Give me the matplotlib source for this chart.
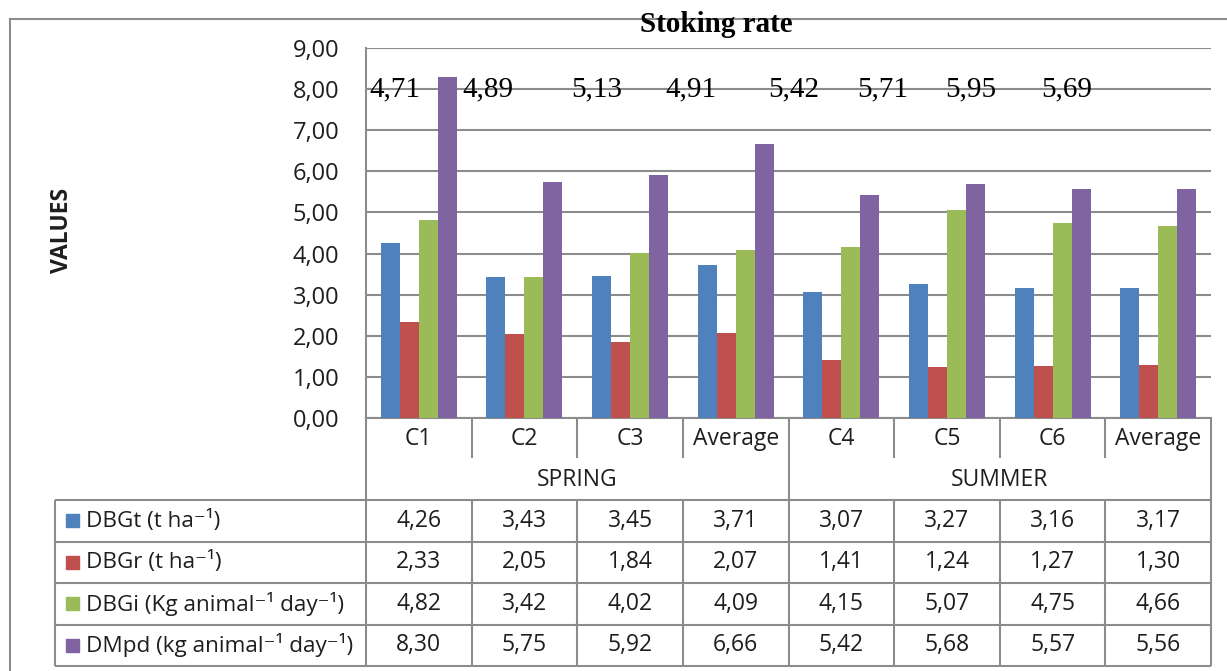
import numpy as np
import matplotlib
matplotlib.use("Agg")
import matplotlib.pyplot as plt
import matplotlib.transforms as mtransforms
from matplotlib.lines import Line2D
from matplotlib.patches import Rectangle

# ── Data ──────────────────────────────────────────────────────────────────────
categories = ["C1", "C2", "C3", "Average", "C4", "C5", "C6", "Average"]
seasons = ["SPRING", "SUMMER"]
season_span = [(0, 3), (4, 7)]

series_names = [
    "DBGt (t ha\u207b\u00b9)",
    "DBGr (t ha\u207b\u00b9)",
    "DBGi (Kg animal\u207b\u00b9 day\u207b\u00b9)",
    "DMpd (kg animal\u207b\u00b9 day\u207b\u00b9)",
]
dbgt = [4.26, 3.43, 3.45, 3.71, 3.07, 3.27, 3.16, 3.17]
dbgr = [2.33, 2.05, 1.84, 2.07, 1.41, 1.24, 1.27, 1.30]
dbgi = [4.82, 3.42, 4.02, 4.09, 4.15, 5.07, 4.75, 4.66]
dmpd = [8.30, 5.75, 5.92, 6.66, 5.42, 5.68, 5.57, 5.56]

stocking_rate = [4.71, 4.89, 5.13, 4.91, 5.42, 5.71, 5.95, 5.69]

# ── Style ─────────────────────────────────────────────────────────────────────
colors = ["#4F81BD", "#C0504D", "#9BBB59", "#8064A2"]
line_c = "#8C8C8C"
text_c = "#1e1e1e"
sans = ["Open Sans", "DejaVu Sans"]
serif = ["Liberation Serif", "DejaVu Serif"]
lw = 1.5
fs_tick, fs_cell, fs_name = 17, 16.5, 16.2

W, H = 1227, 671


def fy(py):
    return 1 - py / H


def fx(px):
    return px / W


def comma(v):
    return f"{v:.2f}".replace(".", ",")


fig = plt.figure(figsize=(W / 100, H / 100), dpi=100)
fig.patch.set_facecolor("white")

ax_l, ax_r, ax_t, ax_b = 366, 1211, 48, 418
ax = fig.add_axes([fx(ax_l), fy(ax_b), fx(ax_r) - fx(ax_l), fy(ax_t) - fy(ax_b)])

x = np.arange(len(categories))
bw = 0.18
for k, vals in enumerate([dbgt, dbgr, dbgi, dmpd]):
    ax.bar(x + (k - 1.5) * bw, vals, width=bw, color=colors[k], zorder=3)

ax.set_xlim(-0.5, len(categories) - 0.5)
ax.set_ylim(0, 9)
ax.set_yticks(np.arange(0, 10, 1))
ax.set_yticklabels([comma(v) for v in np.arange(0, 10, 1)],
                   fontsize=fs_tick, color=text_c, family=sans)
ax.tick_params(axis="y", length=0, pad=19)
ax.set_xticks([])
ax.yaxis.grid(True, color=line_c, lw=lw, zorder=1)
for s in ["top", "right"]:
    ax.spines[s].set_visible(False)
for s in ["left", "bottom"]:
    ax.spines[s].set_color(line_c)
    ax.spines[s].set_linewidth(lw)

# stocking rate values written across the 8,00 line
rate_x = [-0.225, 0.655, 1.687, 2.577, 3.552, 4.395, 5.228, 6.137]
for xr, v in zip(rate_x, stocking_rate):
    ax.text(xr, 8.0, comma(v), ha="center", va="center", fontsize=21,
            family=serif, color="black", zorder=5)

# ── Category row, season row and data table ──────────────────────────────────
bt = mtransforms.blended_transform_factory(ax.transData, fig.transFigure)
ft = fig.transFigure


def hline(x0, x1, py, trans=ft):
    fig.add_artist(Line2D([x0, x1], [fy(py), fy(py)], transform=trans,
                          color=line_c, lw=lw, solid_capstyle="butt"))


def vline(xv, py0, py1, trans=ft):
    fig.add_artist(Line2D([xv, xv], [fy(py0), fy(py1)], transform=trans,
                          color=line_c, lw=lw, solid_capstyle="butt"))


x_first, x_last = -0.5, len(categories) - 0.5
cat_y, season_y = 439, 480
tbl_top, tbl_bot = 500, 666
tbl_left = 55
row_edges = np.linspace(tbl_top, tbl_bot, len(series_names) + 1)

# axis extends down through the table
vline(x_first, ax_b, tbl_bot, bt)
vline(x_last, ax_b, tbl_bot, bt)
for i in range(1, len(categories)):
    b = i - 0.5
    if i == 4:
        vline(b, ax_b, tbl_bot, bt)
    else:
        vline(b, ax_b, 458, bt)
        vline(b, tbl_top, tbl_bot, bt)

for i, c in enumerate(categories):
    fig.text(i, fy(cat_y), c, transform=bt, ha="center", va="center",
             fontsize=fs_cell, color=text_c, family=sans)
for name, (a, b) in zip(seasons, season_span):
    fig.text((a + b) / 2, fy(season_y), name, transform=bt, ha="center",
             va="center", fontsize=fs_cell, color=text_c, family=sans)

# table grid
for py in row_edges:
    hline(fx(tbl_left), fx(ax_r), py)
vline(fx(tbl_left), tbl_top, tbl_bot)

for r, (name, vals) in enumerate(zip(series_names, [dbgt, dbgr, dbgi, dmpd])):
    yc = (row_edges[r] + row_edges[r + 1]) / 2
    fig.add_artist(Rectangle((fx(66), fy(yc + 6.5)), fx(13), 13 / H,
                             transform=ft, color=colors[r]))
    fig.text(fx(86), fy(yc), name, ha="left", va="center", fontsize=fs_name,
             color=text_c, family=sans)
    for i, v in enumerate(vals):
        fig.text(i, fy(yc), comma(v), transform=bt, ha="center", va="center",
                 fontsize=fs_cell, color=text_c, family=sans)

# outer frame and title
fig.add_artist(Line2D([fx(10), 1], [fy(19), fy(19)], transform=ft,
                      color=line_c, lw=lw))
fig.add_artist(Line2D([fx(10), fx(10)], [fy(19), 0], transform=ft,
                      color=line_c, lw=lw))
fig.text(fx(716), fy(24), "Stoking rate", ha="center", va="center",
         fontsize=21, fontweight="bold", family=serif, color="black")

fig.text(fx(62), fy(230), "VALUES", rotation=90, ha="center", va="center",
         fontsize=16.5, fontweight="bold", color=text_c, family=sans)

fig.savefig("out.png", dpi=100, facecolor="white")
